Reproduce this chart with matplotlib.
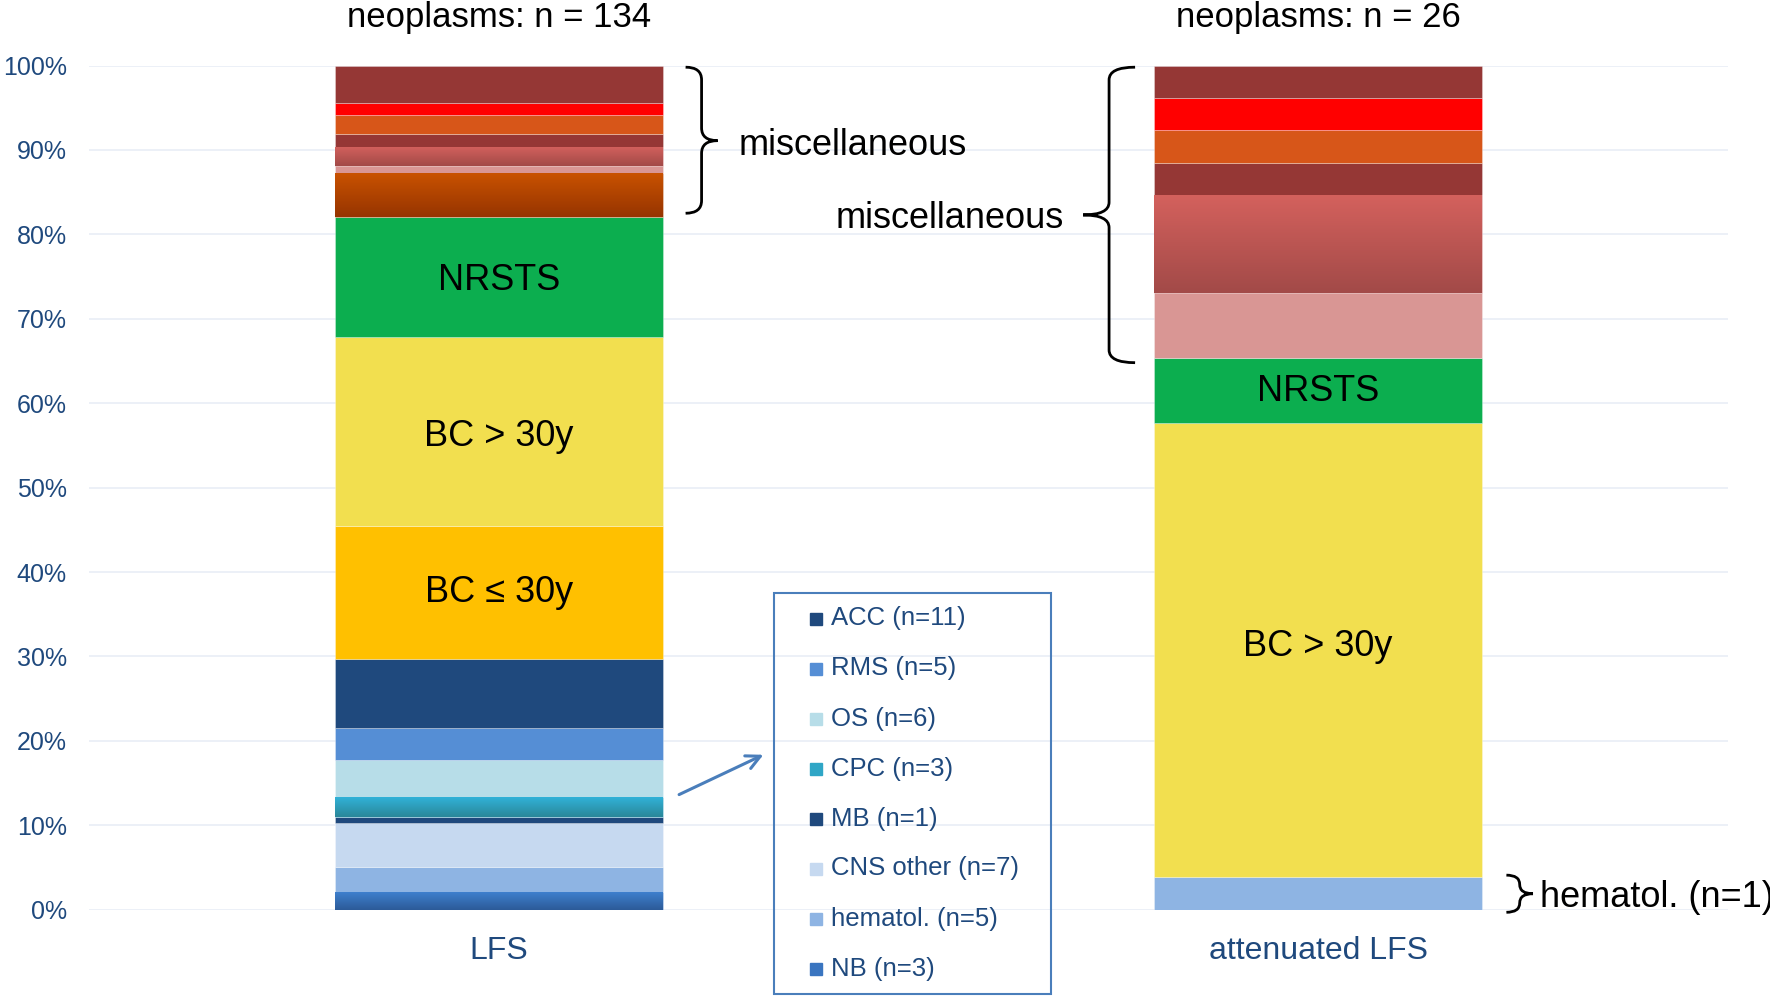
import numpy as np
import matplotlib
matplotlib.use("Agg")
import matplotlib.pyplot as plt
from matplotlib.path import Path
from matplotlib.patches import PathPatch, Rectangle
from matplotlib.colors import LinearSegmentedColormap

plt.rcParams['font.family'] = ['Liberation Sans', 'DejaVu Sans']

# ---- data (percent of neoplasms, bottom to top) ----
groups = ["LFS", "attenuated LFS"]
group_n = [134, 26]

lfs_pct = [2.1, 3.0, 5.2, 0.7, 2.3, 4.4, 3.8, 8.2, 15.8, 22.4, 14.2,
           5.2, 0.8, 2.3, 1.5, 2.2, 1.4, 4.5]
lfs_colors = ['#3a75c0', '#8eb4e3', '#c6d9f0', '#1f497d', '#2f9fbf', '#b7dde8',
              '#558ed5', '#1f497d', '#ffc000', '#f2df4f', '#0cae4f',
              '#b54500', '#d99694', '#c05754', '#953735', '#d75619', '#ff0000', '#953735']
lfs_grad = {0: ('#3e7fce', '#2c5b98'), 4: ('#31b2d8', '#2a8799'),
            11: ('#c95200', '#963400'), 13: ('#d4615d', '#a24a48')}

att_n = [1, 14, 2, 2, 3, 1, 1, 1, 1]
att_colors = ['#8eb4e3', '#f2df4f', '#0cae4f', '#d99694', '#c05754',
              '#953735', '#d75619', '#ff0000', '#953735']
att_grad = {4: ('#d4615d', '#a24a48')}

# labels inside the bars: (bar, text, y)
inner_labels = [(0, "NRSTS", 74.55), (0, "BC > 30y", 56.0), (0, "BC ≤ 30y", 37.55),
                (1, "NRSTS", 61.35), (1, "BC > 30y", 31.15)]

legend_labels = ["ACC (n=11)", "RMS (n=5)", "OS (n=6)", "CPC (n=3)", "MB (n=1)",
                 "CNS other (n=7)", "hematol. (n=5)", "NB (n=3)"]
legend_colors = ['#1f497d', '#558ed5', '#b7dde8', '#2fa6c6', '#1f497d',
                 '#c6d9f0', '#8eb4e3', '#3a75c0']

att_pct = [v / sum(att_n) * 100 for v in att_n]

fig = plt.figure(figsize=(17.7, 9.97), dpi=100)
ax = fig.add_axes([89 / 1770, 0.0875, (1728 - 89) / 1770, 0.8468])

def gradient_fill(bar, top, bottom):
    x0, y0 = bar.get_x(), bar.get_y()
    w, h = bar.get_width(), bar.get_height()
    cmap = LinearSegmentedColormap.from_list('g', [bottom, top])
    grad = np.linspace(0, 1, 200).reshape(-1, 1)
    im = ax.imshow(grad, extent=[x0, x0 + w, y0, y0 + h], origin='lower',
                   cmap=cmap, aspect='auto', zorder=3, interpolation='bilinear')
    im.set_clip_path(bar)

def stack(xpos, values, colors, grads):
    bottom = 0
    for i, (v, c) in enumerate(zip(values, colors)):
        b = ax.bar(xpos, v, 0.4, bottom=bottom, color=c, zorder=2,
                   edgecolor=(1, 1, 1, 0.35), linewidth=0.6)[0]
        if i in grads:
            gradient_fill(b, *grads[i])
        bottom += v

stack(0, lfs_pct, lfs_colors, lfs_grad)
stack(1, att_pct, att_colors, att_grad)

ax.set_xlim(-0.5, 1.5)
ax.set_ylim(0, 100)
ax.set_yticks(np.arange(0, 101, 10))
ax.set_yticklabels([f"{v}%" for v in range(0, 101, 10)])
ax.set_xticks([0, 1])
ax.set_xticklabels(groups)
ax.tick_params(axis='y', length=0, pad=16, labelsize=18, labelcolor='#1f497d')
ax.tick_params(axis='x', length=0, pad=19, labelsize=23, labelcolor='#1f497d')
ax.grid(axis='y', color='#e9eef6', linewidth=1.2, zorder=0)
ax.set_axisbelow(True)
for s in ax.spines.values():
    s.set_visible(False)

for xi, txt, y in inner_labels:
    ax.text(xi, y, txt, ha='center', va='center', fontsize=26, zorder=5)

for xi, n in enumerate(group_n):
    ax.text(xi, 104.6, f"neoplasms: n = {n}", ha='center', va='baseline',
            fontsize=25, clip_on=False)

def brace(x0, x1, y0, y1, ym):
    xm = (x0 + x1) / 2
    d = min(1.5, (y1 - y0) / 4)
    verts = [(x0, y1), (xm, y1), (xm, y1 - d), (xm, ym + d), (xm, ym), (x1, ym),
             (xm, ym), (xm, ym - d), (xm, y0 + d), (xm, y0), (x0, y0)]
    codes = [Path.MOVETO, Path.CURVE3, Path.CURVE3, Path.LINETO, Path.CURVE3, Path.CURVE3,
             Path.CURVE3, Path.CURVE3, Path.LINETO, Path.CURVE3, Path.CURVE3]
    ax.add_patch(PathPatch(Path(verts, codes), fill=False, lw=2, color='black',
                           clip_on=False, zorder=6))

brace(0.228, 0.267, 82.5, 99.8, 91.1)
ax.text(0.293, 90.55, "miscellaneous", ha='left', va='center', fontsize=26)
brace(0.7765, 0.713, 64.8, 99.8, 82.3)
ax.text(0.689, 81.9, "miscellaneous", ha='right', va='center', fontsize=26)
brace(1.2296, 1.262, -0.3, 4.1, 1.9)
ax.text(1.270, 1.45, "hematol. (n=1)", ha='left', va='center', fontsize=26, clip_on=False)

ax.annotate("", xy=(0.326, 18.5), xytext=(0.217, 13.5),
            arrowprops=dict(arrowstyle='->', color='#4a7ebb', lw=2.2,
                            mutation_scale=25))

# legend box drawn by hand
W, H = 1770, 997
fig.patches.append(Rectangle((774 / W, 1 - 994 / H), 277 / W, 401 / H,
                             transform=fig.transFigure, fill=False,
                             edgecolor='#4a7ebb', lw=1.5))
for i, (lab, col) in enumerate(zip(legend_labels, legend_colors)):
    yc = 618.5 + 50 * i
    fig.patches.append(Rectangle((810 / W, 1 - (yc + 6) / H), 12 / W, 12 / H,
                                 transform=fig.transFigure, color=col))
    fig.text(831 / W, 1 - yc / H, lab, ha='left', va='center', fontsize=18.5,
             color='#1f497d')

fig.savefig("out.png", dpi=100)
